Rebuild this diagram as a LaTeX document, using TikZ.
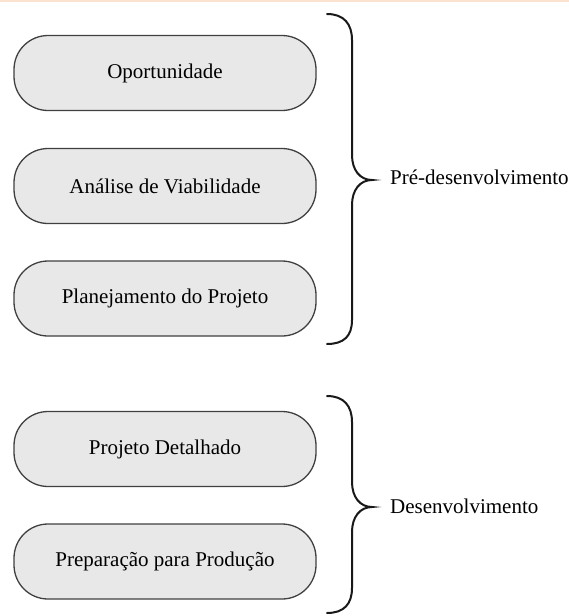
\documentclass[tikz,border=0pt]{standalone}
\usepackage{fontspec}
\setmainfont{Liberation Serif}
\definecolor{boxfill}{HTML}{E8E8E8}
\definecolor{boxline}{HTML}{404040}
\definecolor{band}{HTML}{FBE3D0}
\tikzset{
  stage/.style={draw=boxline, line width=1.3pt, fill=boxfill, rounded corners=34pt,
    minimum width=302pt, minimum height=75pt, inner sep=0pt,
    font=\fontsize{21}{25}\selectfont, text=black},
  bracepath/.style={draw=black!90, line width=2pt, line cap=round},
  phase/.style={anchor=base west, inner sep=0pt, font=\fontsize{21}{25}\selectfont, text=black}
}
\begin{document}
\begin{tikzpicture}[x=1pt,y=-1pt]
\useasboundingbox (0,0) rectangle (569,616);
\fill[band] (0,0) rectangle (569,2);
\node[stage] (b1) at (165,73) {Oportunidade};
\node[stage] (b2) at (165,186) {Análise de Viabilidade};
\node[stage] (b3) at (165,298.5) {Planejamento do Projeto};
\node[stage] (b4) at (165,449) {Projeto Detalhado};
\node[stage] (b5) at (165,561.5) {Preparação para Produção};
% brace 1
\coordinate (t1) at (372,180);
\draw[bracepath] (327,14) .. controls (344,14) and (352,24) .. (352,40)
  -- (352,155) .. controls (352,170) and (360,180) .. (t1)
  .. controls (360,180) and (352,190) .. (352,205)
  -- (352,320) .. controls (352,336) and (344,344) .. (327,344);
\node[phase] (p1) at (390,184) {Pré-desenvolvimento};
% brace 2
\coordinate (t2) at (372,507);
\draw[bracepath] (327,396) .. controls (344,396) and (352,406) .. (352,422)
  -- (352,482) .. controls (352,497) and (360,507) .. (t2)
  .. controls (360,507) and (352,517) .. (352,532)
  -- (352,588) .. controls (352,604) and (344,613) .. (327,613);
\node[phase] (p2) at (390,513) {Desenvolvimento};
\end{tikzpicture}
\end{document}
